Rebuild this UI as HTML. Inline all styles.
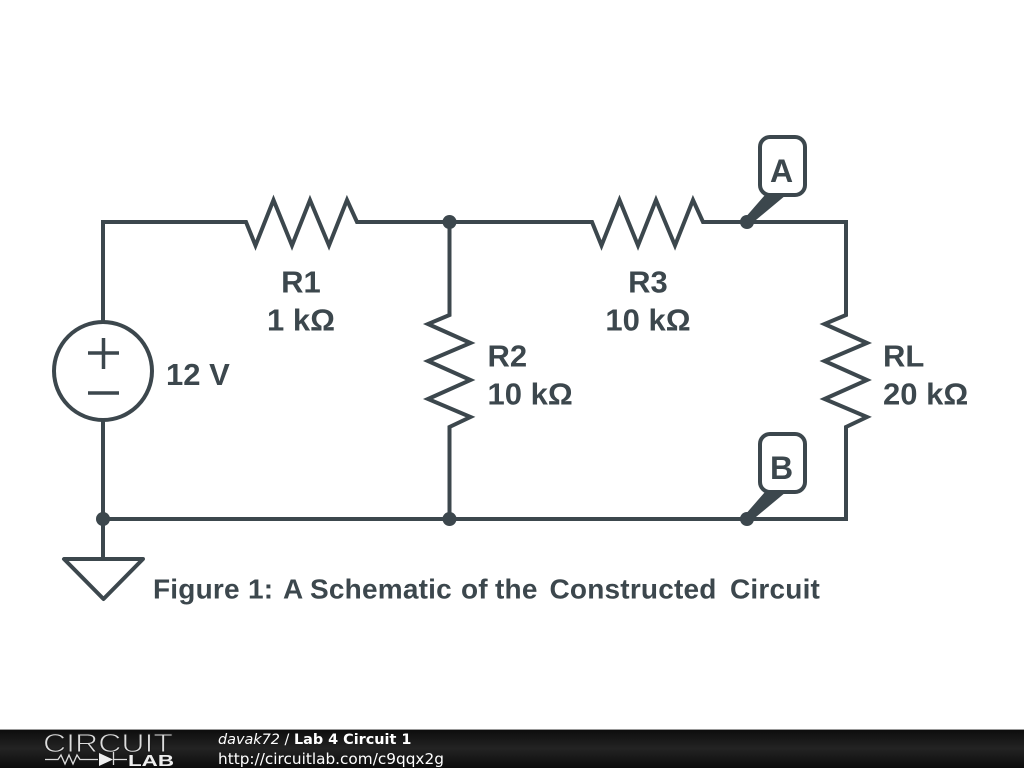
<!DOCTYPE html>
<html><head><meta charset="utf-8"><style>
html,body{margin:0;padding:0;background:#fff;width:1024px;height:768px;overflow:hidden}
svg{display:block}
.l{font-family:"Liberation Sans",sans-serif;font-weight:bold;font-size:31px;fill:#3c474d}
.f{font-family:"DejaVu Sans",sans-serif;fill:#fff}
</style></head><body>
<svg width="1024" height="768" viewBox="0 0 1024 768" xmlns="http://www.w3.org/2000/svg">
<defs><linearGradient id="g" x1="0" y1="0" x2="0" y2="1"><stop offset="0" stop-color="#0c0c0c"/><stop offset="0.5" stop-color="#232323"/><stop offset="1" stop-color="#0c0c0c"/></linearGradient></defs>
<g fill="none" stroke="#3c474d" stroke-width="4" stroke-linejoin="miter">
<path d="M103 322V222H246L255.500 245.500L273.500 200L292 245.500L310 200L329 245.500L347 200L357 222H592L601.500 245.500L619.500 200L638 245.500L656 200L675 245.500L693 200L703 222H846V315L824.500 324L867 343L824.500 361L867 380L824.500 399L867 417L846 427V519H103"/>
<path d="M449.500 222V315L428 324L470.500 343L428 361L470.500 380L428 399L470.500 417L449.500 427V519"/>
<path d="M103 420V559"/>
<circle cx="103" cy="371" r="49"/>
<path d="M88 353H119M103.500 338V369M88 393H119" stroke-width="3.500"/>
<path d="M64 559H143L103.500 599Z" stroke-linejoin="round"/>
<rect x="760" y="137" width="45" height="58" rx="10"/>
<rect x="760" y="434" width="45" height="58" rx="10"/>
</g>
<g fill="#3c474d">
<circle cx="449.500" cy="222" r="7"/><circle cx="747" cy="222" r="7"/>
<circle cx="103" cy="519" r="7"/><circle cx="449.500" cy="519" r="7"/><circle cx="747" cy="519" r="7"/>
<path d="M744 219L765 195H786L750 225Z"/>
<path d="M744 516L765 492H786L750 522Z"/>
</g>
<g class="l" text-anchor="middle">
<text x="301" y="292.500">R1</text>
<text x="301" y="330.500">1 kΩ</text>
<text x="648" y="292.500">R3</text>
<text x="648" y="330.500">10 kΩ</text>
<text x="781.500" y="182" style="font-size:32px">A</text>
<text x="781.500" y="479" style="font-size:32px">B</text>
</g>
<g class="l">
<text x="166" y="385">12 V</text>
<text x="487.500" y="366.500">R2</text>
<text x="487.500" y="404.500">10 kΩ</text>
<text x="883" y="366.500">RL</text>
<text x="883" y="404.500">20 kΩ</text>
<text y="598.500" style="font-size:28px;letter-spacing:0.200px"><tspan x="153">Figure</tspan> <tspan x="248">1:</tspan> <tspan x="283">A</tspan> <tspan x="310">Schematic</tspan> <tspan x="461">of</tspan> <tspan x="495">the</tspan> <tspan x="549.500">Constructed</tspan> <tspan x="730">Circuit</tspan></text>
</g>
<rect x="0" y="729" width="1024" height="39" fill="url(#g)"/>
<rect x="0" y="729" width="1024" height="1" fill="#999"/>
<text x="43" y="752" font-family="Liberation Sans,sans-serif" font-size="26" fill="#ddd" stroke="#1a1a1a" stroke-width="0.900" textLength="130" lengthAdjust="spacingAndGlyphs">CIRCUIT</text>
<path d="M45 759.500H58L61 755L65 764L69 755L73 764L77 755L80 759.500H98M114 759.500H127M113.500 752V765" fill="none" stroke="#ddd" stroke-width="1.300"/>
<path d="M99 753L113 759.500L99 766Z" fill="#eee"/>
<text x="128" y="766" font-family="Liberation Sans,sans-serif" font-weight="bold" font-size="15.500" fill="#eee" textLength="46" lengthAdjust="spacingAndGlyphs">LAB</text>
<text class="f" x="218" y="744" font-size="14.400"><tspan font-style="italic">davak72</tspan> / <tspan font-weight="bold">Lab 4 Circuit 1</tspan></text>
<text class="f" x="218" y="764" font-size="15.300">http://circuitlab.com/c9qqx2g</text>
</svg>
</body></html>
